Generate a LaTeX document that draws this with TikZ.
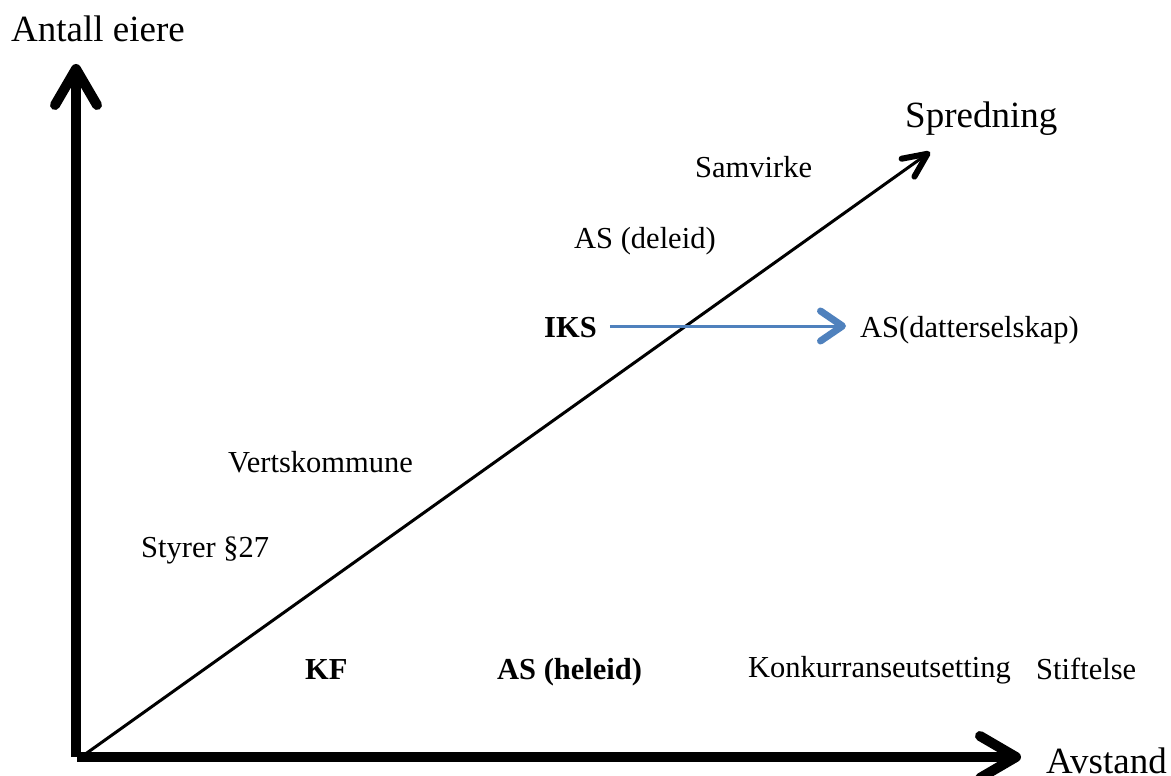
\documentclass[tikz,border=0pt]{standalone}
\usepackage{fontspec}
\setmainfont{Liberation Serif}
\usetikzlibrary{arrows.meta}
\definecolor{officeblue}{RGB}{79,129,189}
\tikzset{
  big/.style={font=\fontsize{37}{41}\selectfont, inner sep=0pt},
  lbl/.style={font=\fontsize{30.5}{34}\selectfont, inner sep=0pt},
  blbl/.style={font=\fontsize{30.5}{34}\selectfont\bfseries, inner sep=0pt},
  axis/.style={line width=10pt, -{Straight Barb[length=36pt, width=42pt, round]}},
  diag/.style={line width=3pt, -{Straight Barb[length=24pt, width=22pt, line width=6pt, round]}},
  blue arrow/.style={officeblue, line width=3pt, -{Straight Barb[length=22pt, width=30pt, line width=7pt, round]}}
}
\begin{document}
\begin{tikzpicture}[x=1pt,y=-1pt]
\useasboundingbox (0,0) rectangle (1171,776);
\coordinate (O) at (76,757);
\coordinate (Ytip) at (76,64);
\coordinate (Xtip) at (1021,757);
\coordinate (D0) at (84,755);
\coordinate (Dtip) at (930,152);
\draw[axis] (O) -- (Ytip);
\draw[axis] ([xshift=1pt]O) -- (Xtip);
\draw[diag] (D0) -- (Dtip);

\node[big, anchor=base west] (ylab) at (11,42) {Antall eiere};
\node[big, anchor=base west] (dlab) at (905,128) {Spredning};
\node[big, anchor=base west] (xlab) at (1046,773) {Avstand};

\node[lbl, anchor=base west] (samv) at (695,177) {Samvirke};
\node[lbl, anchor=base west] (asdel) at (574,248) {AS (deleid)};
\node[blbl, anchor=base west] (iks) at (544,337) {IKS};
\node[lbl, anchor=base west] (asdat) at (860,337) {AS(datterselskap)};
\node[lbl, anchor=base west] (verts) at (228,472) {Vertskommune};
\node[lbl, anchor=base west] (styr) at (141,557) {Styrer §27};
\node[blbl, anchor=base west] (kf) at (305,679) {KF};
\node[blbl, anchor=base west] (ashel) at (497,679) {AS (heleid)};
\node[lbl, anchor=base west] (konk) at (748,677) {Konkurranseutsetting};
\node[lbl, anchor=base west] (stift) at (1036,679) {Stiftelse};

\draw[blue arrow] ([xshift=13pt]iks.east |- 0,326) -- ([xshift=-14pt]asdat.west |- 0,326);
\end{tikzpicture}
\end{document}
